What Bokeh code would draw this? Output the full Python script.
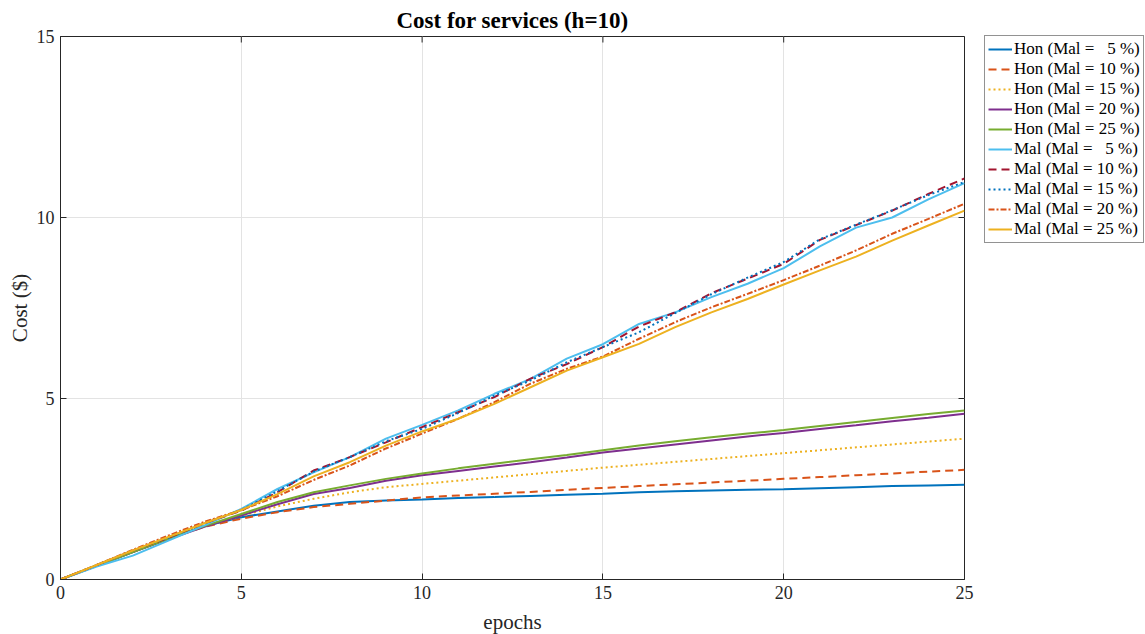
import math
from bokeh.plotting import figure
from bokeh.models import Range1d, FixedTicker, Legend, LegendItem, Title
from bokeh.embed import file_html
from bokeh.resources import INLINE

epochs = list(range(26))

hon_5 = [0, 0.38, 0.76, 1.14, 1.48, 1.72, 1.88, 2.04, 2.14, 2.18, 2.21, 2.25, 2.28, 2.31, 2.34, 2.37,
         2.41, 2.44, 2.46, 2.48, 2.49, 2.52, 2.55, 2.58, 2.60, 2.62]
hon_10 = [0, 0.38, 0.76, 1.14, 1.46, 1.68, 1.86, 2.00, 2.09, 2.18, 2.27, 2.32, 2.37, 2.42, 2.48, 2.53,
          2.58, 2.63, 2.68, 2.73, 2.78, 2.83, 2.88, 2.93, 2.98, 3.03]
hon_15 = [0, 0.38, 0.76, 1.14, 1.48, 1.76, 2.02, 2.23, 2.41, 2.55, 2.64, 2.73, 2.82, 2.91, 3.00, 3.09,
          3.17, 3.25, 3.33, 3.41, 3.49, 3.57, 3.65, 3.73, 3.81, 3.89]
hon_20 = [0, 0.38, 0.76, 1.12, 1.46, 1.77, 2.08, 2.36, 2.53, 2.73, 2.88, 3.00, 3.12, 3.24, 3.37, 3.51,
          3.62, 3.73, 3.84, 3.95, 4.05, 4.16, 4.26, 4.37, 4.47, 4.58]
hon_25 = [0, 0.38, 0.76, 1.13, 1.48, 1.81, 2.14, 2.41, 2.60, 2.78, 2.93, 3.07, 3.20, 3.32, 3.44, 3.57,
          3.70, 3.82, 3.93, 4.03, 4.13, 4.24, 4.35, 4.46, 4.57, 4.67]
mal_5 = [0, 0.36, 0.66, 1.08, 1.50, 1.95, 2.50, 2.96, 3.38, 3.89, 4.27, 4.67, 5.13, 5.54, 6.10, 6.50,
         7.06, 7.38, 7.80, 8.17, 8.60, 9.20, 9.72, 10.00, 10.50, 10.95]
mal_10 = [0, 0.40, 0.80, 1.16, 1.56, 1.90, 2.41, 3.01, 3.38, 3.79, 4.21, 4.62, 5.04, 5.55, 5.95, 6.42,
          6.99, 7.38, 7.91, 8.31, 8.72, 9.38, 9.79, 10.19, 10.65, 11.08]
mal_15 = [0, 0.40, 0.80, 1.16, 1.56, 1.92, 2.44, 2.98, 3.38, 3.82, 4.16, 4.60, 5.08, 5.50, 6.00, 6.42,
          6.83, 7.36, 7.88, 8.34, 8.77, 9.40, 9.80, 10.20, 10.62, 10.98]
mal_20 = [0, 0.40, 0.82, 1.22, 1.60, 1.92, 2.30, 2.75, 3.15, 3.62, 4.03, 4.44, 4.90, 5.41, 5.82, 6.16,
          6.65, 7.11, 7.52, 7.89, 8.27, 8.67, 9.09, 9.55, 9.96, 10.38]
mal_25 = [0, 0.40, 0.80, 1.18, 1.56, 1.92, 2.36, 2.85, 3.24, 3.70, 4.09, 4.44, 4.85, 5.31, 5.77, 6.14,
          6.51, 6.97, 7.38, 7.75, 8.15, 8.54, 8.92, 9.36, 9.78, 10.19]

labels = ["Hon (Mal = \u00a0\u00a05 %)", "Hon (Mal = 10 %)", "Hon (Mal = 15 %)", "Hon (Mal = 20 %)",
          "Hon (Mal = 25 %)", "Mal (Mal = \u00a0\u00a05 %)", "Mal (Mal = 10 %)", "Mal (Mal = 15 %)",
          "Mal (Mal = 20 %)", "Mal (Mal = 25 %)"]
series = [hon_5, hon_10, hon_15, hon_20, hon_25, mal_5, mal_10, mal_15, mal_20, mal_25]
colors = ["#0072BD", "#D95319", "#EDB120", "#7E2F8E", "#77AC30",
          "#4DBEEE", "#A2142F", "#0072BD", "#D95319", "#EDB120"]
dashes = ["solid", "8 5", "2 3", "solid", "solid", "solid", "8 5", "2 3", "6 2 2 2", "solid"]

x_ticks = [0, 5, 10, 15, 20, 25]
y_ticks = [0, 5, 10, 15]

FONT = "Liberation Serif"
AXC = "#262626"

p = figure(frame_width=904, frame_height=543, output_backend="svg", toolbar_location=None,
           x_range=Range1d(0, 25), y_range=Range1d(0, 15),
           min_border_left=60, min_border_right=0, min_border_top=36, min_border_bottom=55)
p.title = Title(text="Cost for services (h=10)", align="center", text_font=FONT,
                text_font_size="23px", text_font_style="bold", text_color="#000000",
                offset=0, standoff=8)
p.outline_line_color = AXC
p.outline_line_width = 1
p.outline_line_alpha = 1

for ax in [p.xaxis[0], p.yaxis[0]]:
    ax.major_tick_in = 6
    ax.major_tick_out = 0
    ax.minor_tick_in = 0
    ax.minor_tick_out = 0
    ax.axis_line_color = AXC
    ax.major_tick_line_color = AXC
    ax.major_label_text_font = FONT
    ax.major_label_text_font_size = "18px"
    ax.major_label_text_color = "#262626"
    ax.axis_label_text_font = FONT
    ax.axis_label_text_font_size = "21px"
    ax.axis_label_text_font_style = "normal"
    ax.axis_label_text_color = "#262626"
p.xaxis[0].ticker = FixedTicker(ticks=x_ticks)
p.yaxis[0].ticker = FixedTicker(ticks=y_ticks)
p.xaxis[0].axis_label = "epochs"
p.yaxis[0].axis_label = "Cost ($)"
p.xaxis[0].major_label_standoff = 6
p.yaxis[0].major_label_standoff = 6
p.xaxis[0].axis_label_standoff = 8
p.yaxis[0].axis_label_standoff = 2

p.xgrid.ticker = FixedTicker(ticks=x_ticks)
p.ygrid.ticker = FixedTicker(ticks=y_ticks)
p.grid.grid_line_color = "#e3e3e3"
p.grid.grid_line_width = 1

# inner tick marks on the top and right edges of the box
p.ray(x=x_ticks, y=[15] * len(x_ticks), length=6, length_units="screen",
      angle=-math.pi / 2, line_color=AXC, line_width=1)
p.ray(x=[25] * len(y_ticks), y=y_ticks, length=6, length_units="screen",
      angle=math.pi, line_color=AXC, line_width=1)

items = []
for lab, ys, c, d in zip(labels, series, colors, dashes):
    r = p.line(epochs, ys, line_color=c, line_width=2, line_dash=d)
    items.append(LegendItem(label=lab, renderers=[r]))

legend = Legend(items=items, location=(20, 336), label_text_font=FONT,
                label_text_font_size="17px", label_text_color="#000000",
                glyph_width=24, glyph_height=20, label_height=20, spacing=0,
                label_standoff=2, padding=3, margin=10,
                border_line_color="#262626", border_line_width=1,
                background_fill_alpha=1)
p.add_layout(legend, "right")

open("out.html", "w").write(file_html(p, INLINE))
